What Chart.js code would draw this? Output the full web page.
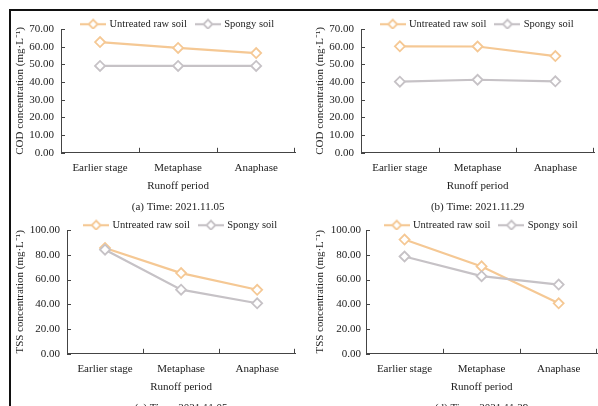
<!DOCTYPE html>
<html>
<head>
<meta charset="utf-8">
<script src="https://cdn.jsdelivr.net/npm/chart.js@4.4.1/dist/chart.umd.min.js"></script>
<style>
  html, body { margin: 0; padding: 0; background: #fff; overflow: hidden; }
  body { width: 598px; height: 406px; position: relative; }
  #frame { position: absolute; left: 9px; top: 9px; width: 600px; height: 400px;
           border-top: 2px solid #111; border-left: 2px solid #111; }
  canvas { position: absolute; }
  #cA { left: 13px;  top: 9px; }
  #cB { left: 313px; top: 9px; }
  #cC { left: 13px;  top: 210px; }
  #cD { left: 313px; top: 210px; }
</style>
</head>
<body>
<div id="frame"></div>
<canvas id="cA" width="289" height="205"></canvas>
<canvas id="cB" width="288" height="205"></canvas>
<canvas id="cC" width="289" height="205"></canvas>
<canvas id="cD" width="291" height="205"></canvas>

<script>
// ================= DATA =================
const categories = ['Earlier stage', 'Metaphase', 'Anaphase'];
const seriesNames = ['Untreated raw soil', 'Spongy soil'];

const codUntreated1105 = [62.6, 59.3, 56.4];
const codSpongy1105 = [49.1, 49.1, 49.1];
const codUntreated1129 = [60.2, 60.1, 54.7];
const codSpongy1129 = [40.2, 41.3, 40.4];

const tssUntreated1105 = [85.5, 65.2, 51.7];
const tssSpongy1105 = [84.1, 51.8, 40.8];
const tssUntreated1129 = [92.3, 70.6, 40.8];
const tssSpongy1129 = [78.6, 62.7, 55.9];

const codTicks = [0, 10, 20, 30, 40, 50, 60, 70];
const tssTicks = [0, 20, 40, 60, 80, 100];

// ================= STYLE =================
const orange = '#F5C894';
const gray = '#C6C2C6';
const axisColor = '#444';
const textColor = '#222';

Chart.defaults.font.family = '"Liberation Serif", "Times New Roman", serif';
Chart.defaults.font.size = 11;
Chart.defaults.color = textColor;

// legend symbol: short line with a hollow diamond
function legendSymbol(color) {
    const c = document.createElement('canvas');
    c.width = 26; c.height = 12;
    const g = c.getContext('2d');
    g.strokeStyle = color;
    g.lineWidth = 2.2;
    g.beginPath(); g.moveTo(0, 6); g.lineTo(26, 6); g.stroke();
    g.fillStyle = '#fff';
    g.lineWidth = 1.8;
    g.beginPath();
    g.moveTo(13, 1.5); g.lineTo(17.5, 6); g.lineTo(13, 10.5); g.lineTo(8.5, 6); g.closePath();
    g.fill(); g.stroke();
    return c;
}
const symbols = [legendSymbol(orange), legendSymbol(gray)];

// Excel-like inward tick marks
const innerTicks = {
    id: 'innerTicks',
    beforeDatasetsDraw(chart) {
        const ctx = chart.ctx;
        const x = chart.scales.x, y = chart.scales.y;
        ctx.save();
        ctx.strokeStyle = axisColor;
        ctx.lineWidth = 1;
        ctx.beginPath();
        const n = x.ticks.length;
        for (let i = 1; i <= n; i++) {
            const px = i < n ? (x.getPixelForValue(i - 1) + x.getPixelForValue(i)) / 2 : x.right - 1;
            const rx = Math.round(px) + 0.5;
            ctx.moveTo(rx, x.top);
            ctx.lineTo(rx, x.top - 5);
        }
        y.ticks.forEach(t => {
            const py = Math.round(y.getPixelForValue(t.value)) + 0.5;
            ctx.moveTo(y.right, py);
            ctx.lineTo(y.right + 4, py);
        });
        ctx.stroke();
        ctx.restore();
    }
};

function makePanel(id, yTitle, yTicks, untreated, spongy, caption, yWidth, tickPad) {
    const yMax = yTicks[yTicks.length - 1];
    const step = yTicks[1] - yTicks[0];
    return new Chart(document.getElementById(id), {
        type: 'line',
        data: {
            labels: categories,
            datasets: [
                {
                    label: seriesNames[0], data: untreated, order: 1,
                    borderColor: orange, borderWidth: 2.2,
                    pointStyle: 'rectRot', pointRadius: 5, pointBorderWidth: 1.8,
                    pointBackgroundColor: '#fff', pointBorderColor: orange
                },
                {
                    label: seriesNames[1], data: spongy, order: 0,
                    borderColor: gray, borderWidth: 2.2,
                    pointStyle: 'rectRot', pointRadius: 5, pointBorderWidth: 1.8,
                    pointBackgroundColor: '#fff', pointBorderColor: gray
                }
            ]
        },
        options: {
            responsive: false,
            animation: false,
            layout: { padding: 0 },
            plugins: {
                tooltip: { enabled: false },
                legend: {
                    position: 'top',
                    fullSize: false,
                    maxHeight: 20,
                    labels: {
                        usePointStyle: true,
                        pointStyleWidth: 22,
                        padding: 10,
                        color: textColor,
                        font: { size: 10.5 },
                        sort: (a, b) => a.datasetIndex - b.datasetIndex,
                        generateLabels(chart) {
                            const items = Chart.defaults.plugins.legend.labels.generateLabels(chart);
                            items.forEach(it => { it.pointStyle = symbols[it.datasetIndex]; });
                            return items;
                        }
                    }
                },
                title: {
                    display: true,
                    text: caption,
                    position: 'bottom',
                    fullSize: false,
                    color: textColor,
                    font: { size: 11, weight: 'normal' },
                    padding: { top: 8, bottom: 0 }
                }
            },
            scales: {
                x: {
                    offset: true,
                    grid: { display: false, drawTicks: false },
                    border: { display: true, color: axisColor, width: 1 },
                    ticks: { padding: 9, color: textColor },
                    title: { display: true, text: 'Runoff period', color: textColor, padding: 0 },
                    afterFit(scale) { scale.height = 40; }
                },
                y: {
                    min: 0, max: yMax,
                    grid: { display: false, drawTicks: false },
                    border: { display: true, color: axisColor, width: 1 },
                    ticks: {
                        stepSize: step, padding: tickPad, color: textColor,
                        callback: v => v.toFixed(2)
                    },
                    title: { display: true, text: yTitle, color: textColor, padding: { top: 1, bottom: 0 } },
                    afterFit(scale) { scale.width = yWidth; }
                }
            }
        },
        plugins: [innerTicks]
    });
}

// ================= INIT =================
makePanel('cA', 'COD concentration (mg\u00B7L\u207B\u00B9)', codTicks, codUntreated1105, codSpongy1105, '(a) Time: 2021.11.05', 48, 7);
makePanel('cB', 'COD concentration (mg\u00B7L\u207B\u00B9)', codTicks, codUntreated1129, codSpongy1129, '(b) Time: 2021.11.29', 48, 7);
makePanel('cC', 'TSS concentration (mg\u00B7L\u207B\u00B9)', tssTicks, tssUntreated1105, tssSpongy1105, '(c) Time: 2021.11.05', 54, 7);
makePanel('cD', 'TSS concentration (mg\u00B7L\u207B\u00B9)', tssTicks, tssUntreated1129, tssSpongy1129, '(d) Time: 2021.11.29', 53, 5);
</script>
</body>
</html>
